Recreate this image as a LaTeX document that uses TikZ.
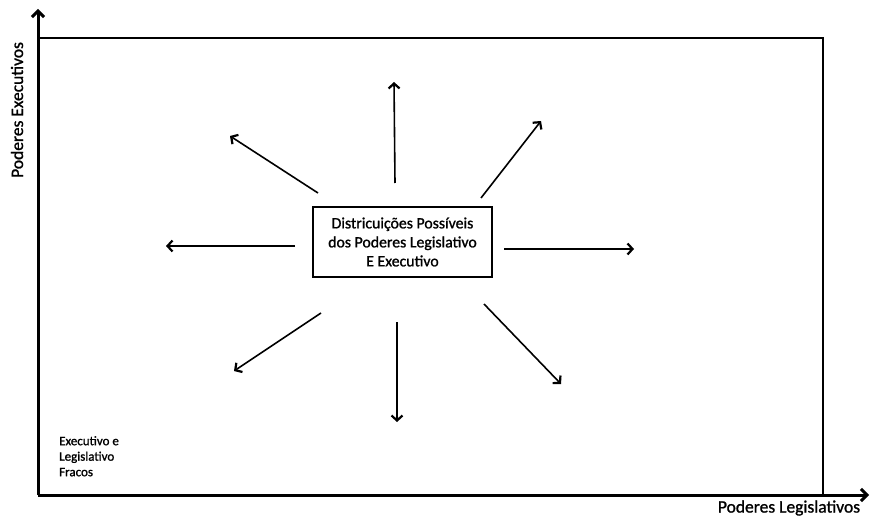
\documentclass[tikz,border=0pt]{standalone}
\usepackage{fontspec}
\setmainfont{Carlito}[FakeBold=1.2]
\usetikzlibrary{arrows.meta}
\begin{document}
\begin{tikzpicture}[x=1pt,y=-1pt,
  axis/.style={line width=3pt,-{Straight Barb[length=6pt,width=12pt,line width=3pt]}},
  frame/.style={line width=1.4pt},
  ray/.style={line width=1.6pt,-{Straight Barb[length=5pt,width=11pt,line width=2.2pt]}},
  lbl/.style={font=\fontsize{17.5}{20}\selectfont,inner sep=0pt},
  centerbox/.style={draw,line width=1.2pt,minimum width=179pt,minimum height=70pt,inner sep=0pt,align=center,font=\fontsize{15.8}{19}\selectfont},
  small/.style={font=\fontsize{13}{15.5}\selectfont,align=left,inner sep=0pt,anchor=north west}]
\useasboundingbox (0,0) rectangle (871,516);
\coordinate (O) at (38,495);
\coordinate (ytop) at (38,9);
\coordinate (xend) at (869,495);
\coordinate (tl) at (38,38);
\coordinate (tr) at (823,38);
\coordinate (br) at (823,495);
\draw[frame] (tl) -- (tr) -- (br);
\draw[axis] (O) -- (ytop);
\draw[axis] (O) -- (xend);
\node[lbl,rotate=90] (ylab) at (17,110) {Poderes Executivos};
\node[lbl] (xlab) at (789,508) {Poderes Legislativos};
\node[small] (weak) at (59,436) {Executivo e\\Legislativo\\Fracos};
\node[centerbox] (c) at (402.5,242) {Districuições Possíveis\\dos Poderes Legislativo\\E Executivo};
% rays
\coordinate (s1) at (318,193); \coordinate (t1) at (230,136);
\coordinate (s2) at (395,183); \coordinate (t2) at (394,82);
\coordinate (s3) at (481,198); \coordinate (t3) at (541,121);
\coordinate (s4) at (295,246); \coordinate (t4) at (166,246);
\coordinate (s5) at (504,249); \coordinate (t5) at (634,249);
\coordinate (s6) at (321,313); \coordinate (t6) at (234,371);
\coordinate (s7) at (397,322); \coordinate (t7) at (397,422);
\coordinate (s8) at (484,304); \coordinate (t8) at (561,384);
\foreach \i in {1,...,8} {\draw[ray] (s\i) -- (t\i);}
\end{tikzpicture}
\end{document}
